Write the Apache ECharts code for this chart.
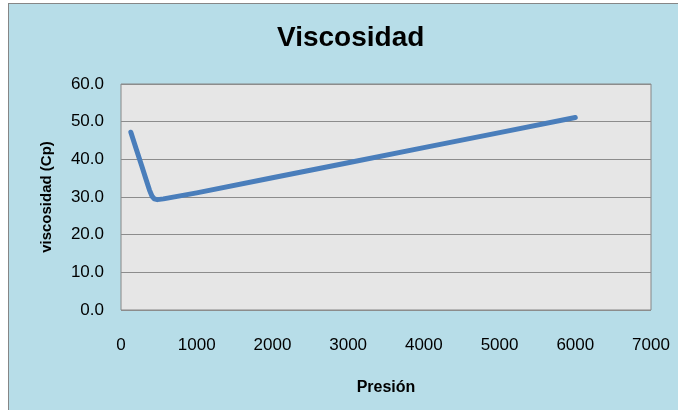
<!DOCTYPE html>
<html>
<head>
<meta charset="utf-8">
<script src="https://cdn.jsdelivr.net/npm/echarts@6/dist/echarts.min.js"></script>
<style>
  html, body { margin: 0; padding: 0; background: #ffffff; width: 678px; height: 410px; overflow: hidden; }
  #frame { position: absolute; left: 8px; top: 3px; width: 700px; height: 430px;
           background: #b7dde8; border: 1px solid #868686; }
  #chart { position: absolute; left: 0; top: 0; width: 678px; height: 410px; }
</style>
</head>
<body>
<div id="frame"></div>
<div id="chart"></div>
<script>
// Pressure (psi) and viscosity (cP) readings
const presion = [130, 200, 270, 330, 375, 410, 440, 480, 560, 1000, 2000, 3000, 4000, 5000, 6000];
const viscosidad = [47.2, 42.8, 38.5, 34.7, 31.9, 30.2, 29.5, 29.3, 29.5, 31.1, 35.1, 39.1, 43.1, 47.1, 51.1];

const xTicks = { min: 0, max: 7000, interval: 1000 };
const yTicks = { min: 0, max: 60, interval: 10 };

const FONT = '"Liberation Sans", Arial, sans-serif';

const chart = echarts.init(document.getElementById('chart'), null, { renderer: 'canvas' });

chart.setOption({
  backgroundColor: 'transparent',
  animation: false,
  title: {
    text: 'Viscosidad',
    left: 272,
    top: 19,
    textStyle: { fontFamily: FONT, fontSize: 28, fontWeight: 'bold', color: '#000000' }
  },
  grid: {
    left: 121, top: 84, width: 530, height: 226,
    show: true,
    backgroundColor: '#e6e6e6',
    borderColor: '#868686',
    borderWidth: 1
  },
  xAxis: {
    type: 'value',
    min: xTicks.min, max: xTicks.max, interval: xTicks.interval,
    name: 'Presión',
    nameLocation: 'middle',
    nameGap: 70,
    nameTextStyle: { fontFamily: FONT, fontSize: 16, fontWeight: 'bold', color: '#000000' },
    axisLine: { show: false },
    axisTick: { show: false },
    splitLine: { show: false },
    axisLabel: { margin: 27, fontFamily: FONT, fontSize: 17, color: '#000000', formatter: v => String(v) }
  },
  yAxis: {
    type: 'value',
    min: yTicks.min, max: yTicks.max, interval: yTicks.interval,
    name: 'viscosidad (Cp)',
    nameLocation: 'middle',
    nameGap: 67,
    nameRotate: 90,
    nameTextStyle: { fontFamily: FONT, fontSize: 15, fontWeight: 'bold', color: '#000000' },
    axisLine: { show: false },
    axisTick: { show: false },
    splitLine: { show: true, lineStyle: { color: '#8c8c8c', width: 1 } },
    axisLabel: {
      margin: 17, fontFamily: FONT, fontSize: 17, color: '#000000',
      formatter: v => v.toFixed(1)
    }
  },
  series: [{
    type: 'line',
    data: presion.map((p, i) => [p, viscosidad[i]]),
    showSymbol: false,
    smooth: false,
    lineStyle: { color: '#4a7ebb', width: 5, cap: 'round', join: 'round' },
    itemStyle: { color: '#4a7ebb' }
  }]
});
</script>
</body>
</html>
